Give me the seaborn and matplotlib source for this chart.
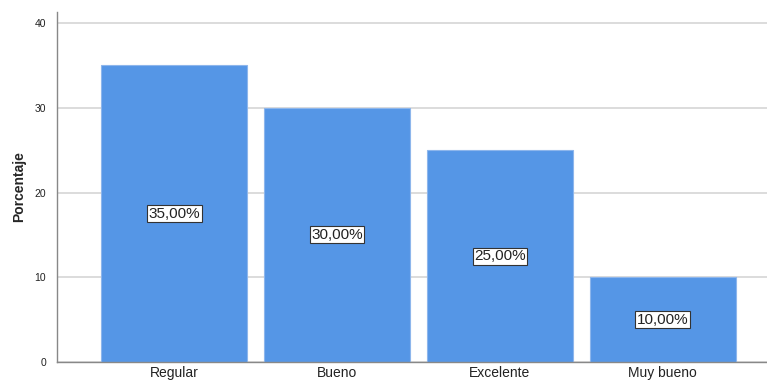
import matplotlib
matplotlib.use("Agg")
import matplotlib.pyplot as plt
import seaborn as sns
import pandas as pd

categorias = ["Regular", "Bueno", "Excelente", "Muy bueno"]
porcentajes = [35.0, 30.0, 25.0, 10.0]
etiquetas = ["35,00%", "30,00%", "25,00%", "10,00%"]

df = pd.DataFrame({"categoria": categorias, "porcentaje": porcentajes})

sns.set_style("white")
plt.rcParams['font.family'] = ['Liberation Sans', 'DejaVu Sans']

fig = plt.figure(figsize=(7.67, 3.82), dpi=100)
ax = fig.add_axes([57 / 767, 20 / 382, 710 / 767, 350 / 382])

sns.barplot(data=df, x="categoria", y="porcentaje", color="#5596e6",
            saturation=1, width=0.896, edgecolor="#8db6ec", linewidth=0.8,
            ax=ax, zorder=2)

for i, (v, t) in enumerate(zip(porcentajes, etiquetas)):
    ax.text(i, v / 2, t, ha="center", va="center", fontsize=11, color="#222222",
            bbox=dict(boxstyle="square,pad=0.1", fc="white", ec="#333333", lw=0.8),
            zorder=3)

ax.set_xlim(-0.72, 3.64)
ax.set_ylim(0, 41.3)
ax.set_yticks([0, 10, 20, 30, 40])
ax.yaxis.grid(True, color="#d6d6d6", linewidth=1.2, zorder=0)
ax.set_axisbelow(True)
ax.tick_params(axis="y", labelsize=7.5, colors="#222222", length=0, pad=8)
ax.tick_params(axis="x", labelsize=10, colors="#222222", length=0, pad=3)
ax.set_xlabel("")
ax.set_ylabel("Porcentaje", fontsize=10, fontweight="bold", labelpad=6)
for s in ["top", "right"]:
    ax.spines[s].set_visible(False)
for s in ["left", "bottom"]:
    ax.spines[s].set_color("#888888")
    ax.spines[s].set_linewidth(1)

fig.savefig("out.png", dpi=100)
